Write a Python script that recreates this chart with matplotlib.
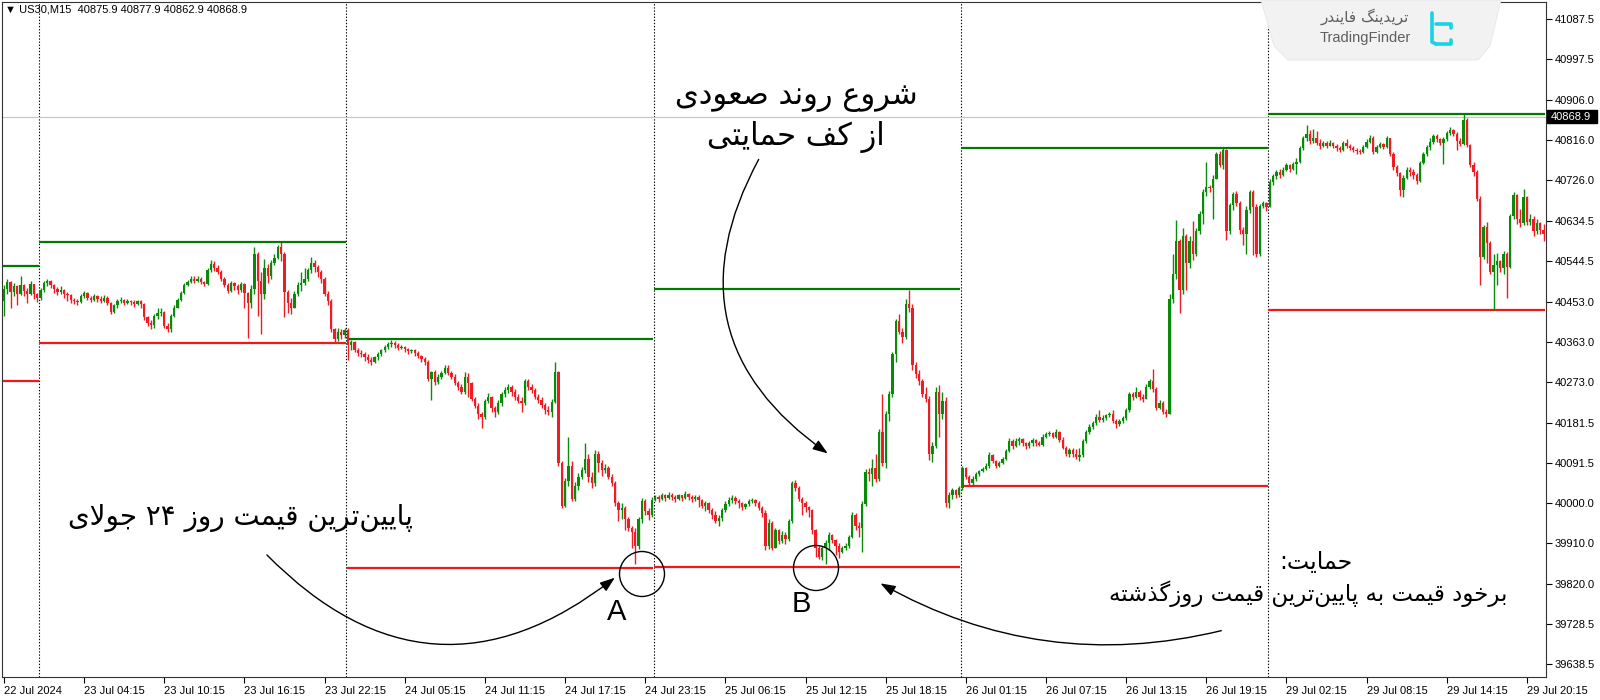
import re
import numpy as np
import matplotlib
matplotlib.use('Agg')
import matplotlib.pyplot as plt
from matplotlib.patches import Circle, Polygon, FancyArrowPatch, Rectangle

# ---- candles (US30 M15), opens follow the previous close ----
first_open = 40455

d0_close = [40482, 40498, 40475, 40488, 40470, 40490, 40478, 40470, 40492, 40470, 40462]
d0_high = [40490, 40505, 40500, 40495, 40490, 40510, 40492, 40485, 40500, 40494, 40472]
d0_low = [40420, 40470, 40440, 40465, 40445, 40468, 40465, 40450, 40468, 40460, 40452]

d1_close = [40480, 40495, 40500, 40490, 40482, 40475, 40480, 40470, 40468, 40458,
            40455, 40452, 40465, 40472, 40462, 40458, 40465, 40460, 40455, 40462,
            40450, 40430, 40445, 40455, 40458, 40450, 40455, 40452, 40448, 40454,
            40448, 40418, 40405, 40400, 40420, 40428, 40430, 40398, 40392, 40420,
            40440, 40458, 40472, 40490, 40498, 40505, 40500, 40505, 40498, 40492,
            40525, 40538, 40530, 40520, 40505, 40490, 40478, 40495, 40488, 40480,
            40492, 40472, 40450, 40482, 40560, 40500, 40470, 40530, 40510, 40540,
            40552, 40575, 40560, 40475, 40450, 40440, 40470, 40490, 40495, 40505,
            40525, 40540, 40532, 40520, 40505, 40470, 40455, 40392, 40370, 40385, 40378, 40390]
d1_high = [40485, 40500, 40505, 40502, 40492, 40486, 40488, 40482, 40475, 40470,
           40462, 40460, 40470, 40478, 40475, 40466, 40470, 40468, 40465, 40468,
           40465, 40452, 40448, 40460, 40464, 40460, 40460, 40458, 40456, 40458,
           40456, 40450, 40420, 40412, 40425, 40438, 40440, 40432, 40405, 40425,
           40446, 40462, 40478, 40495, 40502, 40510, 40510, 40512, 40508, 40500,
           40528, 40548, 40545, 40535, 40525, 40508, 40495, 40500, 40498, 40492,
           40498, 40495, 40475, 40490, 40575, 40565, 40520, 40550, 40538, 40548,
           40560, 40580, 40588, 40565, 40480, 40462, 40478, 40498, 40520, 40528,
           40530, 40553, 40548, 40535, 40525, 40508, 40478, 40460, 40395, 40395, 40392, 40395]
d1_low = [40458, 40475, 40488, 40485, 40472, 40468, 40470, 40462, 40455, 40450,
          40448, 40445, 40450, 40462, 40458, 40452, 40455, 40452, 40450, 40452,
          40445, 40425, 40428, 40440, 40450, 40445, 40448, 40446, 40442, 40445,
          40440, 40412, 40398, 40392, 40395, 40415, 40422, 40395, 40385, 40385,
          40418, 40438, 40455, 40470, 40488, 40495, 40495, 40498, 40494, 40488,
          40490, 40520, 40522, 40515, 40500, 40486, 40472, 40476, 40480, 40470,
          40475, 40440, 40372, 40440, 40470, 40420, 40380, 40460, 40495, 40505,
          40535, 40550, 40545, 40418, 40428, 40425, 40438, 40465, 40478, 40490,
          40500, 40518, 40520, 40508, 40495, 40465, 40445, 40385, 40360, 40365, 40370, 40372]

d2_close = [40355, 40362, 40345, 40338, 40335, 40328, 40322, 40318, 40328, 40335,
            40345, 40352, 40358, 40360, 40356, 40350, 40352, 40346, 40342, 40345,
            40338, 40332, 40325, 40318, 40280, 40295, 40272, 40285, 40292, 40305,
            40292, 40285, 40270, 40262, 40250, 40285, 40270, 40235, 40220, 40200,
            40195, 40230, 40240, 40215, 40205, 40225, 40245, 40255, 40262, 40250,
            40240, 40230, 40225, 40275, 40262, 40255, 40240, 40232, 40222, 40210,
            40205, 40228, 40295, 40090, 39995, 40050, 40085, 40010, 40040, 40060,
            40075, 40100, 40060, 40045, 40110, 40090, 40075, 40080, 40060, 40045,
            40000, 39985, 39990, 39965, 39945, 39935, 39905, 39965, 40005, 39982, 39975, 40008]
d2_high = [40395, 40368, 40366, 40350, 40345, 40340, 40335, 40330, 40332, 40340,
           40348, 40356, 40362, 40368, 40364, 40360, 40356, 40354, 40350, 40348,
           40348, 40342, 40334, 40328, 40322, 40298, 40300, 40290, 40298, 40310,
           40312, 40298, 40290, 40275, 40268, 40295, 40292, 40272, 40240, 40225,
           40205, 40235, 40248, 40242, 40220, 40232, 40250, 40262, 40268, 40265,
           40256, 40245, 40238, 40280, 40280, 40268, 40260, 40245, 40238, 40225,
           40220, 40235, 40318, 40298, 40095, 40058, 40150, 40095, 40048, 40068,
           40082, 40135, 40110, 40070, 40120, 40118, 40098, 40088, 40085, 40065,
           40050, 40005, 40000, 39995, 39970, 39950, 39945, 39970, 40012, 40010, 39990, 40015]
d2_low = [40322, 40345, 40340, 40332, 40328, 40320, 40316, 40312, 40315, 40322,
          40332, 40340, 40348, 40352, 40350, 40344, 40346, 40340, 40336, 40338,
          40332, 40326, 40318, 40312, 40275, 40232, 40265, 40268, 40280, 40290,
          40288, 40280, 40265, 40255, 40245, 40245, 40238, 40230, 40215, 40190,
          40170, 40190, 40225, 40205, 40195, 40200, 40218, 40240, 40248, 40242,
          40232, 40225, 40205, 40222, 40255, 40248, 40235, 40225, 40215, 40200,
          40198, 40195, 40225, 40085, 39990, 39992, 40040, 40005, 40005, 40030,
          40055, 40068, 40048, 40035, 40040, 40070, 40062, 40068, 40055, 40040,
          39995, 39960, 39965, 39940, 39938, 39900, 39864, 39898, 39955, 39975, 39962, 39970]

d3_close = [40015, 40010, 40018, 40012, 40020, 40015, 40010, 40018, 40012, 40022,
            40015, 40010, 40015, 40008, 39995, 40000, 39985, 39975, 39960, 39968,
            39985, 39998, 40008, 40012, 40005, 40000, 39992, 39998, 40005, 40008,
            40002, 39990, 39978, 39905, 39955, 39900, 39940, 39915, 39930, 39920,
            39960, 40045, 40035, 40010, 40000, 39992, 39985, 39940, 39900, 39880,
            39900, 39912, 39930, 39918, 39905, 39890, 39900, 39905, 39925, 39975,
            39950, 39945, 39998, 40070, 40065, 40080, 40055, 40160, 40090, 40200,
            40245, 40335, 40410, 40385, 40375, 40448, 40440, 40310, 40290, 40275,
            40245, 40235, 40110, 40130, 40250, 40200, 40230, 40000, 40018, 40030, 40020, 40035]
d3_high = [40020, 40020, 40024, 40022, 40025, 40024, 40018, 40022, 40020, 40028,
           40024, 40020, 40020, 40018, 40010, 40006, 40004, 39990, 39982, 39975,
           39990, 40005, 40015, 40018, 40016, 40010, 40004, 40002, 40010, 40012,
           40010, 40006, 39995, 39985, 39965, 39960, 39945, 39942, 39938, 39935,
           39965, 40050, 40052, 40040, 40015, 40005, 39995, 39988, 39942, 39905,
           39905, 39918, 39935, 39932, 39920, 39910, 39905, 39912, 39930, 39980,
           39978, 39958, 40005, 40078, 40080, 40100, 40110, 40168, 40245, 40208,
           40252, 40340, 40415, 40425, 40395, 40460, 40479, 40448, 40318, 40300,
           40280, 40262, 40242, 40138, 40262, 40265, 40250, 40238, 40025, 40035, 40032, 40040]
d3_low = [40005, 40004, 40008, 40006, 40010, 40008, 40004, 40008, 40005, 40010,
          40008, 40004, 40006, 39992, 39990, 39982, 39978, 39965, 39955, 39950,
          39960, 39980, 39995, 40002, 39998, 39990, 39985, 39988, 39995, 40000,
          39995, 39985, 39970, 39895, 39898, 39895, 39905, 39908, 39912, 39908,
          39915, 39955, 40028, 40005, 39975, 39980, 39970, 39932, 39880, 39875,
          39872, 39865, 39895, 39912, 39885, 39878, 39888, 39895, 39900, 39922,
          39940, 39925, 39890, 39995, 40050, 40040, 40048, 40050, 40085, 40080,
          40185, 40240, 40318, 40380, 40360, 40370, 40430, 40300, 40282, 40265,
          40240, 40228, 40098, 40092, 40125, 40150, 40190, 39993, 39990, 40010, 40012, 40015]

d4_close = [40080, 40060, 40045, 40055, 40065, 40072, 40078, 40085, 40108, 40095,
            40085, 40090, 40100, 40118, 40140, 40128, 40140, 40145, 40135, 40128,
            40135, 40142, 40136, 40132, 40150, 40155, 40158, 40150, 40160, 40142,
            40125, 40112, 40120, 40110, 40105, 40108, 40140, 40160, 40172, 40180,
            40195, 40188, 40192, 40198, 40200, 40185, 40178, 40185, 40192, 40210,
            40245, 40238, 40250, 40240, 40235, 40262, 40275, 40258, 40215, 40225,
            40205, 40200, 40460, 40515, 40590, 40480, 40600, 40540, 40590, 40560,
            40612, 40650, 40700, 40712, 40708, 40730, 40785, 40760, 40795, 40612,
            40670, 40695, 40675, 40615, 40605, 40660, 40700, 40665, 40560, 40668, 40674, 40665]
d4_high = [40085, 40082, 40064, 40062, 40070, 40076, 40082, 40090, 40115, 40110,
           40098, 40095, 40104, 40122, 40146, 40145, 40146, 40150, 40148, 40138,
           40140, 40146, 40145, 40140, 40155, 40160, 40162, 40160, 40168, 40162,
           40150, 40130, 40124, 40125, 40122, 40125, 40145, 40165, 40178, 40186,
           40200, 40210, 40198, 40202, 40205, 40210, 40190, 40190, 40196, 40215,
           40250, 40250, 40262, 40255, 40245, 40268, 40280, 40302, 40262, 40232,
           40230, 40212, 40470, 40560, 40637, 40595, 40618, 40605, 40600, 40635,
           40618, 40656, 40706, 40767, 40716, 40738, 40790, 40792, 40798, 40796,
           40676, 40700, 40702, 40680, 40620, 40668, 40705, 40705, 40672, 40672, 40680, 40678]
d4_low = [40030, 40055, 40040, 40042, 40050, 40062, 40070, 40076, 40080, 40090,
          40080, 40082, 40088, 40098, 40115, 40122, 40126, 40132, 40130, 40122,
          40124, 40130, 40130, 40128, 40130, 40148, 40152, 40146, 40148, 40138,
          40122, 40106, 40105, 40104, 40100, 40095, 40105, 40136, 40155, 40168,
          40176, 40182, 40182, 40188, 40194, 40180, 40170, 40175, 40180, 40188,
          40205, 40232, 40236, 40232, 40228, 40238, 40258, 40250, 40210, 40212,
          40200, 40195, 40200, 40450, 40505, 40427, 40470, 40480, 40530, 40548,
          40555, 40605, 40628, 40690, 40700, 40640, 40728, 40755, 40752, 40592,
          40605, 40660, 40668, 40605, 40580, 40560, 40652, 40558, 40553, 40555, 40664, 40656]

d5_close = [40722, 40735, 40745, 40738, 40750, 40760, 40752, 40762, 40768, 40798,
            40822, 40830, 40815, 40822, 40810, 40802, 40810, 40804, 40810, 40804,
            40798, 40795, 40810, 40802, 40798, 40794, 40792, 40790, 40800, 40812,
            40822, 40790, 40800, 40808, 40800, 40820, 40785, 40755, 40742, 40705,
            40732, 40750, 40745, 40738, 40725, 40765, 40785, 40800, 40812, 40825,
            40818, 40810, 40818, 40832, 40838, 40830, 40815, 40808, 40862, 40805,
            40760, 40745, 40685, 40553, 40620, 40585, 40520, 40535, 40545, 40530,
            40560, 40532, 40645, 40692, 40640, 40630, 40688, 40632, 40638, 40612, 40630, 40615, 40605]
d5_high = [40728, 40740, 40750, 40752, 40755, 40764, 40762, 40768, 40775, 40802,
           40826, 40850, 40838, 40842, 40836, 40818, 40815, 40814, 40816, 40812,
           40808, 40802, 40814, 40818, 40808, 40802, 40798, 40796, 40806, 40818,
           40828, 40826, 40806, 40812, 40810, 40826, 40822, 40790, 40760, 40745,
           40738, 40755, 40756, 40752, 40742, 40770, 40790, 40806, 40820, 40830,
           40830, 40822, 40824, 40836, 40845, 40842, 40834, 40820, 40876, 40866,
           40808, 40768, 40750, 40690, 40625, 40632, 40590, 40560, 40562, 40548,
           40568, 40565, 40650, 40700, 40695, 40662, 40706, 40690, 40650, 40645, 40640, 40632, 40628]
d5_low = [40665, 40715, 40730, 40732, 40735, 40746, 40745, 40748, 40740, 40765,
          40794, 40815, 40808, 40810, 40805, 40796, 40800, 40798, 40802, 40798,
          40792, 40790, 40792, 40798, 40794, 40790, 40786, 40786, 40788, 40798,
          40810, 40786, 40788, 40798, 40796, 40798, 40780, 40750, 40736, 40690,
          40688, 40728, 40735, 40730, 40718, 40722, 40762, 40780, 40795, 40808,
          40812, 40805, 40762, 40815, 40828, 40826, 40795, 40802, 40805, 40800,
          40755, 40735, 40680, 40490, 40550, 40540, 40515, 40434, 40490, 40520,
          40515, 40462, 40528, 40640, 40628, 40620, 40625, 40625, 40625, 40600, 40605, 40605, 40590]

# previous-day high / low levels drawn over each day
day_start = [0, 11, 103, 195, 287, 379]
day_end = [10, 102, 194, 286, 378, 461]
level_high = [40533, 40588, 40369, 40482, 40798, 40876]
level_low = [40276, 40360, 39854, 39858, 40040, 40434]
last_price = 40868.9

y_ticks = [41087.5, 40997.5, 40906.0, 40816.0, 40726.0, 40634.5, 40544.5, 40453.0, 40363.0,
           40273.0, 40181.5, 40091.5, 40000.0, 39910.0, 39820.0, 39728.5, 39638.5]
x_labels = ['22 Jul 2024', '23 Jul 04:15', '23 Jul 10:15', '23 Jul 16:15', '23 Jul 22:15',
            '24 Jul 05:15', '24 Jul 11:15', '24 Jul 17:15', '24 Jul 23:15', '25 Jul 06:15',
            '25 Jul 12:15', '25 Jul 18:15', '26 Jul 01:15', '26 Jul 07:15', '26 Jul 13:15',
            '26 Jul 19:15', '29 Jul 02:15', '29 Jul 08:15', '29 Jul 14:15', '29 Jul 20:15']

# ---- minimal Persian shaping (matplotlib has no RTL / joining) ----
FORMS = {
    'ا': ('\uFE8D', '\uFE8E'), 'د': ('\uFEA9', '\uFEAA'), 'ذ': ('\uFEAB', '\uFEAC'),
    'ر': ('\uFEAD', '\uFEAE'), 'ز': ('\uFEAF', '\uFEB0'), 'و': ('\uFEED', '\uFEEE'),
    'ب': ('\uFE8F', '\uFE90', '\uFE91', '\uFE92'), 'پ': ('\uFB56', '\uFB57', '\uFB58', '\uFB59'),
    'ت': ('\uFE95', '\uFE96', '\uFE97', '\uFE98'), 'ج': ('\uFE9D', '\uFE9E', '\uFE9F', '\uFEA0'),
    'ح': ('\uFEA1', '\uFEA2', '\uFEA3', '\uFEA4'), 'خ': ('\uFEA5', '\uFEA6', '\uFEA7', '\uFEA8'),
    'ش': ('\uFEB5', '\uFEB6', '\uFEB7', '\uFEB8'), 'ص': ('\uFEB9', '\uFEBA', '\uFEBB', '\uFEBC'),
    'ع': ('\uFEC9', '\uFECA', '\uFECB', '\uFECC'), 'ف': ('\uFED1', '\uFED2', '\uFED3', '\uFED4'),
    'ق': ('\uFED5', '\uFED6', '\uFED7', '\uFED8'), 'ک': ('\uFB8E', '\uFB8F', '\uFB90', '\uFB91'),
    'گ': ('\uFB92', '\uFB93', '\uFB94', '\uFB95'), 'ل': ('\uFEDD', '\uFEDE', '\uFEDF', '\uFEE0'),
    'م': ('\uFEE1', '\uFEE2', '\uFEE3', '\uFEE4'), 'ن': ('\uFEE5', '\uFEE6', '\uFEE7', '\uFEE8'),
    'ه': ('\uFEE9', '\uFEEA', '\uFEEB', '\uFEEC'), 'ی': ('\uFBFC', '\uFBFD', '\uFBFE', '\uFBFF'),
}


def fa(text):
    out = []
    k = 0
    n = len(text)
    while k < n:
        c = text[k]
        if c not in FORMS:
            out.append('' if c == '\u200c' else c)
            k += 1
            continue
        prev = text[k - 1] if k > 0 else ''
        p = prev in FORMS and len(FORMS[prev]) == 4
        if c == 'ل' and k + 1 < n and text[k + 1] == 'ا':
            out.append('\uFEFC' if p else '\uFEFB')
            k += 2
            continue
        nxt = text[k + 1] if k + 1 < n else ''
        q = len(FORMS[c]) == 4 and nxt in FORMS
        f = FORMS[c]
        if p and q:
            out.append(f[3])
        elif p:
            out.append(f[1])
        elif q:
            out.append(f[2])
        else:
            out.append(f[0])
        k += 1
    s = ''.join(out)[::-1]
    return re.sub('[0-9\u06f0-\u06f9]+', lambda m: m.group(0)[::-1], s)


GREEN = '#0a8a0a'
RED = '#ee1c24'
W, H = 1600, 700

fig = plt.figure(figsize=(16, 7), dpi=100, facecolor='white')
ax = fig.add_axes([1.5 / W, 1 - 677 / H, 1544.5 / W, 675.5 / H])

closes = np.array(d0_close + d1_close + d2_close + d3_close + d4_close + d5_close, float)
highs = np.array(d0_high + d1_high + d2_high + d3_high + d4_high + d5_high, float)
lows = np.array(d0_low + d1_low + d2_low + d3_low + d4_low + d5_low, float)
opens = np.concatenate([[first_open], closes[:-1]])
highs = np.maximum(highs, np.maximum(opens, closes))
lows = np.minimum(lows, np.minimum(opens, closes))
x = np.arange(len(closes))
col = np.where(closes >= opens, GREEN, RED)
bottom = np.minimum(opens, closes)
height = np.maximum(np.abs(closes - opens), 2.0)

ax.vlines(x, lows, highs, colors=col, lw=1.0, zorder=3)
ax.bar(x, height, bottom=bottom, width=0.7, color=col, lw=0, zorder=4)

for s, e, hi, lo in zip(day_start, day_end, level_high, level_low):
    ax.hlines(hi, s - 0.4, e + 0.4, color='#007a00', lw=1.6, zorder=2)
    ax.hlines(lo, s - 0.4, e + 0.4, color='#f01818', lw=1.6, zorder=2)
for s in day_start[1:]:
    ax.axvline(s - 0.5, color='black', lw=0.8, linestyle=(0, (1.2, 1.6)), zorder=1)
ax.axhline(last_price, color='#c4c4c4', lw=0.8, zorder=1)

ax.set_xlim(-0.72, 461.7)
ax.set_ylim(39610.0, 41127.7)
for sp in ax.spines.values():
    sp.set_color('#333333')
    sp.set_linewidth(0.8)

ax.yaxis.tick_right()
ax.set_yticks(y_ticks)
ax.set_yticklabels(['%.1f' % v for v in y_ticks])
ax.set_xticks(np.arange(0, len(x_labels) * 24, 24))
ax.set_xticklabels(x_labels, ha='left')
ax.tick_params(axis='both', direction='out', length=4, width=0.8, colors='black',
               labelsize=8, pad=2.5)
for t in ax.get_xticklabels() + ax.get_yticklabels():
    t.set_family('Liberation Sans')

# ---- overlay in pixel coordinates for annotations ----
ov = fig.add_axes([0, 0, 1, 1], facecolor='none')
ov.set_xlim(0, W)
ov.set_ylim(H, 0)
ov.axis('off')

ov.text(5, 10, '▼ US30,M15  40875.9 40877.9 40862.9 40868.9', fontsize=8,
        family=['Liberation Sans', 'DejaVu Sans'], va='center', ha='left')

ov.add_patch(Rectangle((1547, 110), 50, 12.5, color='black', zorder=5))
ov.text(1551, 116.5, '40868.9', color='white', fontsize=8, family='Liberation Sans',
        va='center', ha='left', zorder=6)

# logo box
ov.add_patch(Polygon([(1261, 0), (1501, 0), (1490, 46), (1478, 60), (1288, 60), (1274, 46)],
                     closed=True, facecolor='#f2f2f2', edgecolor='#e6e6e6', lw=0.6, zorder=5))
ov.text(1365, 17, fa('تریدینگ فایندر'), fontsize=11, color='#5e5e5e', family='DejaVu Sans',
        ha='center', va='center', zorder=6)
ov.text(1365, 38, 'TradingFinder', fontsize=10.5, color='#5e5e5e', family='Liberation Sans',
        ha='center', va='center', zorder=6)
ov.plot([1432, 1432, 1436], [13, 42, 44], color='#18d2e6', lw=2.6, solid_capstyle='round', zorder=6)
ov.plot([1436, 1451, 1451], [24, 24, 28], color='#18d2e6', lw=2.6, solid_capstyle='round', zorder=6)
ov.plot([1436, 1451, 1451], [44, 44, 40], color='#18d2e6', lw=2.6, solid_capstyle='round', zorder=6)

# annotations
fa_font = dict(family='DejaVu Sans', color='black', ha='center', va='center', zorder=7)
ov.text(796, 97, fa('شروع روند صعودی'), fontsize=22, **fa_font)
ov.text(796, 137, fa('از کف حمایتی'), fontsize=22, **fa_font)
ov.text(240, 518, fa('پایین\u200cترین قیمت روز ۲۴ جولای'), fontsize=20, **fa_font)
ov.text(1316, 562, fa('حمایت:'), fontsize=17, **fa_font)
ov.text(1308, 594, fa('برخود قیمت به پایین\u200cترین قیمت روزگذشته'), fontsize=16.5, **fa_font)

ov.text(617, 612, 'A', fontsize=21, family='Liberation Sans', ha='center', va='center')
ov.text(801, 604, 'B', fontsize=21, family='Liberation Sans', ha='center', va='center')
ov.add_patch(Circle((642, 574), 22.5, fill=False, ec='black', lw=1.0, zorder=7))
ov.add_patch(Circle((816, 568), 22.5, fill=False, ec='black', lw=1.0, zorder=7))

arrow_kw = dict(arrowstyle='-|>,head_length=0.5,head_width=0.18', mutation_scale=18,
                color='black', lw=1.0, zorder=7)
ov.add_patch(FancyArrowPatch((265, 553), (617, 576), connectionstyle='arc3,rad=0.45', **arrow_kw))
ov.add_patch(FancyArrowPatch((1224, 630), (878, 582), connectionstyle='arc3,rad=-0.2', **arrow_kw))
ov.add_patch(FancyArrowPatch((760, 157), (830, 455), connectionstyle='arc3,rad=0.45', **arrow_kw))

fig.savefig('out.png', dpi=100)
